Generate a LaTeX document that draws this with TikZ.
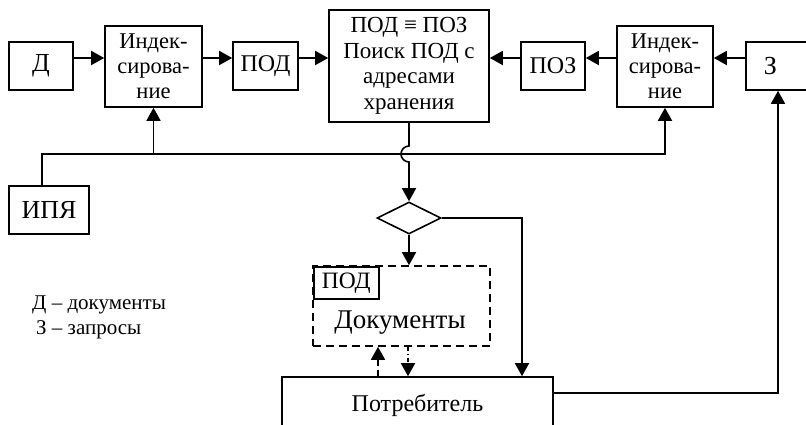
\documentclass[tikz,border=0pt]{standalone}
\usepackage{fontspec}
\setmainfont{Liberation Serif}
\usetikzlibrary{arrows.meta,shapes.geometric,calc}

\tikzset{
  box/.style={draw, line width=1.6pt, rectangle, inner sep=0pt, align=center, fill=white},
  tip/.style={-{Triangle[length=13pt,width=14pt]}},
  arr/.style={line width=1.6pt, tip},
  darr/.style={line width=1.6pt, dash pattern=on 6pt off 4pt, tip},
  dotarr/.style={line width=1.6pt, dash pattern=on 4pt off 3pt on 1pt off 3pt, tip},
  big/.style={font=\fontsize{24}{27}\selectfont},
  mid/.style={font=\fontsize{22.5}{25}\selectfont},
}

\begin{document}
\begin{tikzpicture}[x=1pt, y=-1pt]
  \useasboundingbox (0,0) rectangle (806,424);
  \clip (0,0) rectangle (806,424);

  % reference coordinates for shared rails
  \coordinate (row) at (0,58);
  \coordinate (bus) at (0,154);
  \coordinate (xr) at (522,0);
  \coordinate (xa) at (378,0);
  \coordinate (xb) at (408,0);
  \coordinate (xz) at (778,0);
  \coordinate (yp) at (0,393);

  % top row
  \node[box, font=\fontsize{26}{28}\selectfont, minimum width=64pt, minimum height=48pt] (D) at (41,66) {Д};
  \node[box, mid, minimum width=97pt, minimum height=81pt] (I1) at (153.5,66.5) {Индек-\\сирова-\\ние};
  \node[box, big, minimum width=65pt, minimum height=48pt] (POD) at (265.5,66) {ПОД};
  \node[box, font=\fontsize{23}{25.5}\selectfont, minimum width=160pt, minimum height=112pt] (C) at (409,66) {ПОД ≡ ПОЗ\\Поиск ПОД с\\адресами\\хранения};
  \node[box, big, minimum width=64pt, minimum height=48pt] (POZ) at (553,66) {ПОЗ};
  \node[box, mid, minimum width=96pt, minimum height=81pt] (I2) at (665,66.5) {Индек-\\сирова-\\ние};
  \node[box, font=\fontsize{26}{28}\selectfont, anchor=west, inner xsep=18pt, text width=60pt, align=left, minimum height=48pt] (Z) at (745,66) {З};

  % language box
  \node[box, font=\fontsize{26}{28}\selectfont, minimum width=80pt, minimum height=48pt] (IPA) at (49,210) {ИПЯ};

  % decision and output
  \node[draw, line width=1.6pt, diamond, aspect=2, inner sep=0pt, minimum width=64pt, minimum height=32pt] (Dm) at (409,218) {};
  \node[draw, line width=1.6pt, dash pattern=on 8pt off 5pt, rectangle, minimum width=177pt, minimum height=80pt, inner sep=0pt] (DB) at (401.5,306) {};
  \node[font=\fontsize{27}{30}\selectfont] (Doc) at (400,323) {Документы};
  \node[box, font=\fontsize{23.5}{26}\selectfont, anchor=north west, minimum width=65pt, minimum height=32pt] (PODs) at (313,266) {ПОД};
  \node[box, font=\fontsize{24}{27}\selectfont, minimum width=271pt, minimum height=56pt] (P) at (417.5,405) {Потребитель};

  % legend
  \node[font=\fontsize{21}{24}\selectfont, anchor=base west, inner sep=0pt] (L1) at (32,309) {Д -- документы};
  \node[font=\fontsize{21}{24}\selectfont, anchor=base west, inner sep=0pt] (L2) at (36,334) {З -- запросы};

  % top row arrows
  \draw[arr] (D.east |- row) -- (I1.west |- row);
  \draw[arr] (I1.east |- row) -- (POD.west |- row);
  \draw[arr] (POD.east |- row) -- (C.west |- row);
  \draw[arr] (Z.west |- row) -- (I2.east |- row);
  \draw[arr] (I2.west |- row) -- (POZ.east |- row);
  \draw[arr] (POZ.west |- row) -- (C.east |- row);

  % language feeds both indexing blocks
  \draw[arr] ([xshift=-7pt]IPA.north) |- (I2.south |- bus) -- (I2.south);
  \draw[arr] (I1.south |- bus) -- (I1.south);

  % search result goes down, hopping over the bus
  \draw[arr] (C.south) -- ($(C.south |- bus)+(0,-8)$)
    arc[start angle=270, end angle=90, radius=8] -- (Dm.north);

  % decision branches
  \draw[arr] (Dm.south) -- (Dm.south |- DB.north);
  \draw[arr] (Dm.east) -| (P.north -| xr);

  % exchange between consumer and documents
  \draw[darr] (P.north -| xa) -- (DB.south -| xa);
  \draw[dotarr] (DB.south -| xb) -- (P.north -| xb);

  % consumer issues new queries
  \draw[arr] (P.east |- yp) -| (Z.south -| xz);
\end{tikzpicture}
\end{document}
